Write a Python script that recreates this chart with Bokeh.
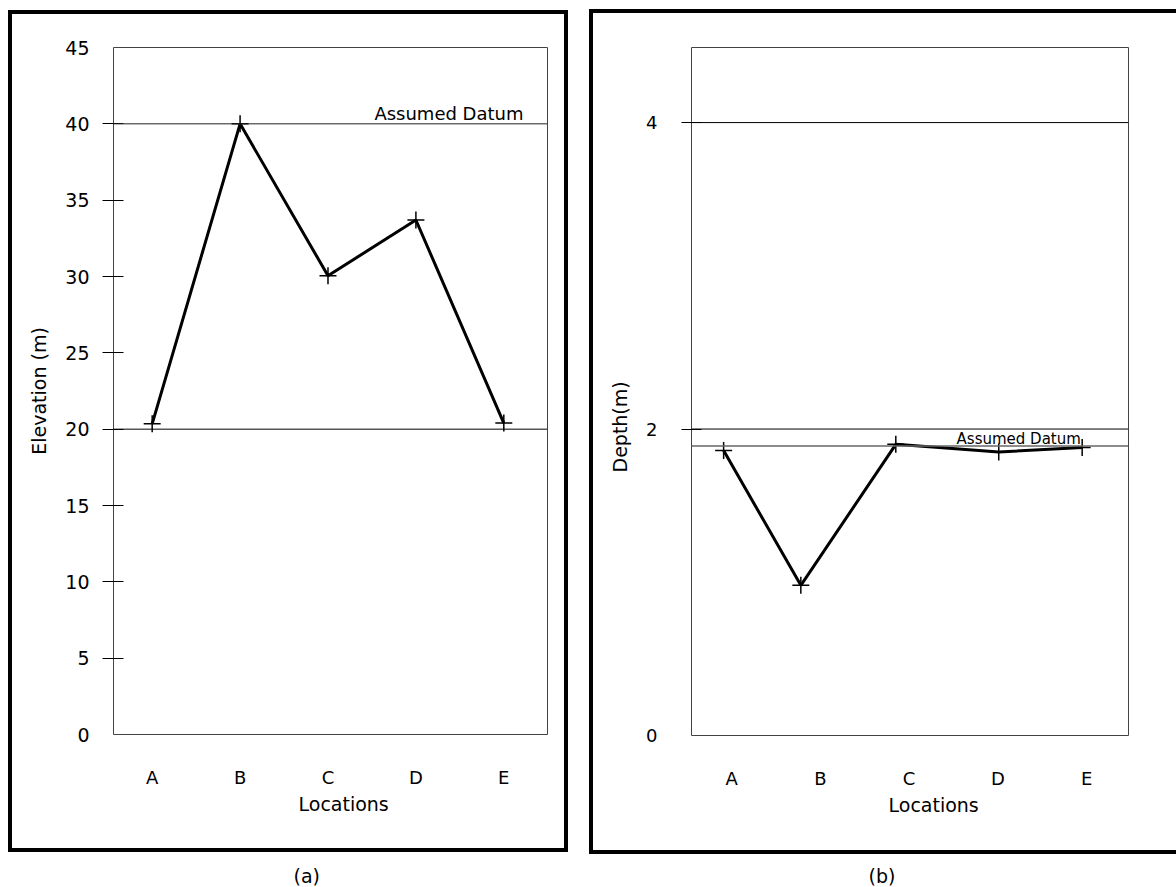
from bokeh.plotting import figure
from bokeh.models import (FixedTicker, LinearAxis, Span, Label, Range1d, Title)
from bokeh.layouts import row, column
from bokeh.embed import file_html
from bokeh.resources import INLINE

# ---------------- data ----------------
locations = ["A", "B", "C", "D", "E"]
loc_index = [1, 2, 3, 4, 5]

# (a) elevation profile
elevation = [20.35, 40.0, 30.05, 33.7, 20.4]
elev_ticks = [0, 5, 10, 15, 20, 25, 30, 35, 40, 45]
elev_tick_marks = [5, 10, 15, 20, 25, 30, 35, 40]
elev_datum = 40
elev_ref = 20

# (b) depth profile (positions along section)
depth_pos = [0.91, 1.78, 2.85, 4.01, 4.95]
depth = [1.86, 0.98, 1.90, 1.85, 1.88]
depth_ticks = [0, 2, 4]
depth_tick_marks = [2, 4]
depth_datum = 1.89
depth_refs = [2, 4]

FONT = "DejaVu Sans"


def title(text, offset, standoff):
    return Title(text=text, align="left", offset=offset, standoff=standoff,
                 text_font=FONT, text_font_size="19px", text_font_style="normal",
                 text_color="black")


def base_fig(w, h, x_start, x_end, y_end, left, right, top, bottom, border):
    p = figure(width=w, height=h, output_backend="svg", toolbar_location=None,
               title=None, x_axis_type=None, y_axis_type=None,
               x_range=Range1d(x_start, x_end), y_range=Range1d(0, y_end),
               min_border_left=left, min_border_right=right,
               min_border_top=top, min_border_bottom=bottom,
               styles=border)
    p.outline_line_color = "#444444"
    p.outline_line_width = 1
    p.background_fill_color = "white"
    p.border_fill_color = "white"
    return p


def add_axes(p, marks, ticks, tick_out, tick_in, label_standoff, ylabel, ylabel_standoff,
             label_size, xlabel_offset):
    # inner axis: tick marks only (its labels are not drawn)
    ax_t = LinearAxis(ticker=FixedTicker(ticks=marks),
                      major_tick_out=tick_out, major_tick_in=tick_in,
                      major_tick_line_color="black", major_tick_line_width=1,
                      minor_tick_line_color=None, axis_line_color=None,
                      major_label_text_color=None, major_label_text_alpha=0,
                      major_label_text_font_size="1px", major_label_standoff=0)
    p.add_layout(ax_t, "left")
    # outer axis: tick labels (and axis title)
    ax_y = LinearAxis(ticker=FixedTicker(ticks=ticks),
                      major_tick_out=0, major_tick_in=0,
                      major_tick_line_color=None, minor_tick_line_color=None,
                      axis_line_color=None, major_label_standoff=label_standoff,
                      major_label_text_font=FONT, major_label_text_font_size=label_size,
                      major_label_text_color="black",
                      axis_label=ylabel, axis_label_text_font=FONT,
                      axis_label_text_font_size="19px", axis_label_text_font_style="normal",
                      axis_label_text_color="black", axis_label_standoff=ylabel_standoff)
    p.add_layout(ax_y, "left")
    ax_x = LinearAxis(ticker=FixedTicker(ticks=loc_index),
                      major_label_overrides={i: s for i, s in zip(loc_index, locations)},
                      major_tick_line_color=None, minor_tick_line_color=None,
                      axis_line_color=None, major_label_standoff=26,
                      major_label_text_font=FONT, major_label_text_font_size="18px",
                      major_label_text_color="black")
    p.add_layout(ax_x, "below")
    p.add_layout(title("Locations", xlabel_offset, 1), "below")


def caption_fig(text, w, h, left, right, offset):
    c = figure(width=w, height=h, output_backend="svg", toolbar_location=None,
               x_axis_type=None, y_axis_type=None, title=None,
               min_border_left=left, min_border_right=right,
               min_border_top=h - 1, min_border_bottom=0)
    c.outline_line_color = None
    c.background_fill_color = "white"
    c.border_fill_color = "white"
    c.add_layout(title(text, offset, 0), "above")
    return c


# ---------------- panel (a) ----------------
pa = base_fig(560, 842, 0.56, 5.497, 45, 101, 25, 33, 122,
              {"border": "4px solid black"})
add_axes(pa, elev_tick_marks, elev_ticks, 11, 10, 13, "Elevation (m)", 12, "19px", 185)
pa.add_layout(Span(location=elev_ref, dimension="width", line_color="black", line_width=1))
pa.add_layout(Span(location=elev_datum, dimension="width", line_color="#222222", line_width=1))
pa.add_layout(Label(x=5.224, y=elev_datum, text="Assumed Datum", text_align="right",
                    text_baseline="middle", y_offset=10.5, text_font=FONT,
                    text_font_size="18px", text_color="black"))
pa.line(loc_index, elevation, line_color="black", line_width=3)
pa.scatter(loc_index, elevation, marker="cross", size=17, line_color="black", line_width=1.5)
cap_a = caption_fig("(a)", 560, 35, 101, 25, 184)

# ---------------- panel (b) ----------------
pb = base_fig(587, 845, 0.548, 5.472, 4.49, 98, 52, 34, 123,
              {"border": "4px solid black", "border-right": "none"})
add_axes(pb, depth_tick_marks, depth_ticks, 10, 10, 24, None, 0, "18px", 197)
pb.add_layout(title("Depth(m)", 263, 25), "left")
for r in depth_refs:
    pb.add_layout(Span(location=r, dimension="width", line_color="black", line_width=1))
pb.add_layout(Span(location=depth_datum, dimension="width", line_color="#666666", line_width=1.5))
pb.add_layout(Label(x=4.935, y=depth_datum, text="Assumed Datum", text_align="right",
                    text_baseline="middle", y_offset=7, text_font=FONT,
                    text_font_size="15px", text_color="black"))
pb.line(depth_pos, depth, line_color="black", line_width=3)
pb.scatter(depth_pos, depth, marker="cross", size=17, line_color="black", line_width=1.5)
cap_b = caption_fig("(b)", 587, 33, 98, 52, 181)

col_a = column(pa, cap_a, spacing=0, margin=(10, 0, 0, 8))
col_b = column(pb, cap_b, spacing=0, margin=(9, 0, 0, 21))
layout = row(col_a, col_b, spacing=0)
open("out.html", "w").write(file_html(layout, INLINE))
